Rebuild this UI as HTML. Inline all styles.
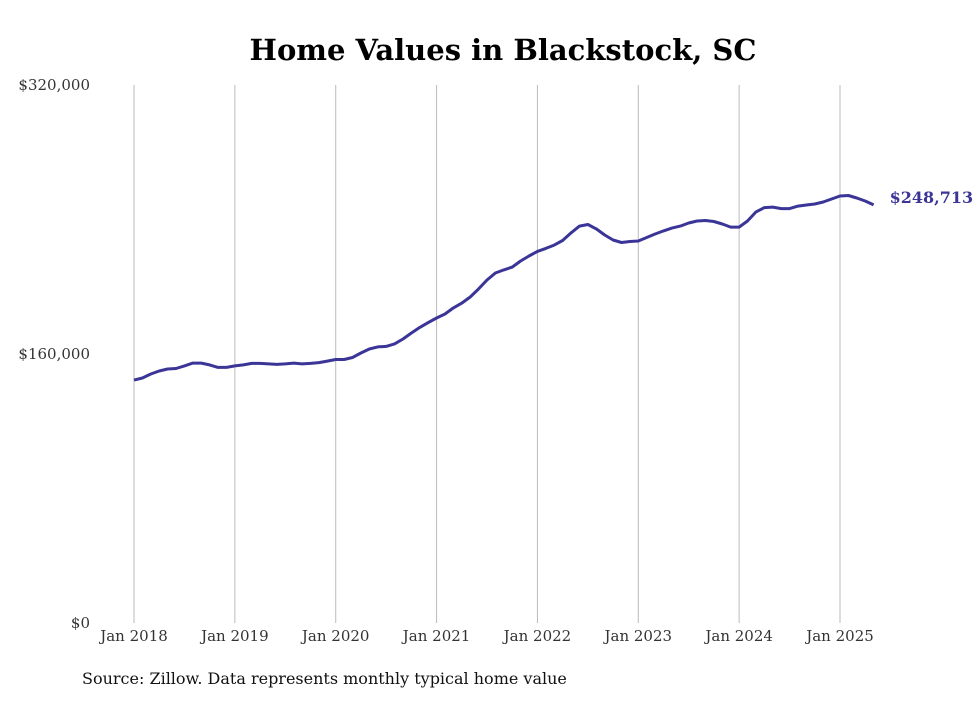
<!DOCTYPE html>
<html><head><meta charset="utf-8"><style>
body{margin:0;background:#fff;width:980px;height:699px;overflow:hidden}
svg text{font-family:"DejaVu Serif","Liberation Serif",serif}
</style></head><body>
<svg width="980" height="699">
<text x="503" y="60" text-anchor="middle" font-size="29" font-weight="bold" fill="#000">Home Values in Blackstock, SC</text>
<g id="grid"></g><g id="yaxis"></g><g id="xaxis"></g>
<path id="line" fill="none" stroke="#3a3597" stroke-width="3" stroke-linejoin="round"/>
<text id="endlabel" font-size="16" font-weight="bold" fill="#3a3597"></text>
<text x="82" y="684" font-size="16" fill="#111">Source: Zillow. Data represents monthly typical home value</text>
</svg>
<script>
const yearLabels=["Jan 2018","Jan 2019","Jan 2020","Jan 2021","Jan 2022","Jan 2023","Jan 2024","Jan 2025"];
const yTicks=[0,160000,320000];
const yTickLabels=["$0","$160,000","$320,000"];
const values=[144500,145700,148100,149900,151100,151400,152900,154600,154600,153500,152000,152000,
152900,153500,154400,154400,154100,153800,154100,154600,154100,154400,154900,155800,
156700,156700,157900,160600,163000,164200,164500,166000,168900,172500,175800,178700,
181400,183800,187400,190300,193900,198700,204000,208200,210000,211700,215300,218300,
221000,222800,224800,227500,232000,236100,237000,234400,230800,227800,226300,226900,
227200,229300,231400,233200,234900,236100,237900,239100,239400,238800,237300,235500,
235500,239100,244500,247100,247400,246500,246500,248000,248600,249200,250400,252200,
254000,254300,252800,251000,248713];
const endLabel="$248,713";
const NS="http://www.w3.org/2000/svg";
const x=m=>134+m*(706/84);
const y=v=>623-v*538/320000;
const grid=document.getElementById('grid'),xa=document.getElementById('xaxis'),ya=document.getElementById('yaxis');
yearLabels.forEach((l,i)=>{
 const gl=document.createElementNS(NS,'line');
 
 
 gl.setAttribute('x1',x(i*12));gl.setAttribute('x2',x(i*12));gl.setAttribute('y1',85);gl.setAttribute('y2',623);
 gl.setAttribute('stroke','#bbb');gl.setAttribute('stroke-width','1');grid.appendChild(gl);
 const t=document.createElementNS(NS,'text');
 
 
 t.setAttribute('x',x(i*12));t.setAttribute('y',641);t.setAttribute('text-anchor','middle');
 t.setAttribute('font-size','15');t.setAttribute('fill','#333');t.textContent=l;xa.appendChild(t);
});
yTicks.forEach((v,i)=>{
 const t=document.createElementNS(NS,'text');
 
 
 t.setAttribute('x',90);t.setAttribute('y',y(v)+5);t.setAttribute('text-anchor','end');
 t.setAttribute('font-size','15');t.setAttribute('fill','#333');t.textContent=yTickLabels[i];ya.appendChild(t);
});
document.getElementById('line').setAttribute('d',values.map((v,i)=>(i?'L':'M')+x(i).toFixed(1)+','+y(v).toFixed(1)).join(''));
const el=document.getElementById('endlabel');
el.setAttribute('x',x(values.length-1)+16);el.setAttribute('y',y(values[values.length-1])-2);el.textContent=endLabel;
</script>
</body></html>
